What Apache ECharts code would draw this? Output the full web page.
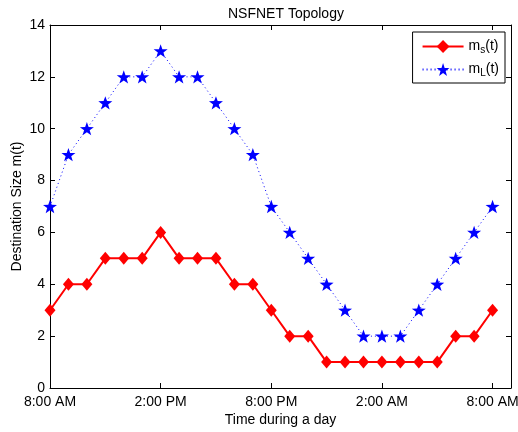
<!DOCTYPE html>
<html><head><meta charset="utf-8">
<script src="https://cdn.jsdelivr.net/npm/echarts@6/dist/echarts.min.js"></script>
<style>html,body{margin:0;padding:0;background:#fff}#c{width:518px;height:432px}</style>
</head><body><div id="c"></div>
<script>
// hours after 8:00 AM
const hours = [0,1,2,3,4,5,6,7,8,9,10,11,12,13,14,15,16,17,18,19,20,21,22,23,24];
const msValues = [3,4,4,5,5,5,6,5,5,5,4,4,3,2,2,1,1,1,1,1,1,1,2,2,3];
const mlValues = [7,9,10,11,12,12,13,12,12,11,10,9,7,6,5,4,3,2,2,2,3,4,5,6,7];
const tickLabels = {0:'8:00 AM',6:'2:00 PM',12:'8:00 PM',18:'2:00 AM',24:'8:00 AM'};
const yTicks = [0,2,4,6,8,10,12,14];

const FONT = 'Liberation Sans, Arial, sans-serif';
const star = 'path://M0,-10 L2.35,-3.24 L9.51,-3.09 L3.8,1.24 L5.88,8.09 L0,4 L-5.88,8.09 L-3.8,1.24 L-9.51,-3.09 L-2.35,-3.24 Z';
const chart = echarts.init(document.getElementById('c'), null, {renderer:'canvas'});
const axLine = {show:true, onZero:false, lineStyle:{color:'#000', width:1}};
const tick = {show:true, inside:true, length:5, lineStyle:{color:'#000', width:1}};
chart.setOption({
  animation:false,
  backgroundColor:'#fff',
  title:{text:'NSFNET Topology', left:223, top:2,
    textStyle:{fontFamily:FONT, fontSize:14, fontWeight:'normal', color:'#000'}},
  grid:{left:50, right:7, top:25, bottom:44, containLabel:false, outerBoundsMode:'none'},
  legend:{
    right:13, top:32, orient:'vertical', itemWidth:41, itemHeight:16, itemGap:6,
    padding:[6,6,5,9], borderColor:'#000', borderWidth:1, backgroundColor:'#fff',
    data:['ms','mL'],
    formatter:function(n){ return n==='ms' ? 'm{sub|s}(t)' : 'm{sub|L}(t)'; },
    textStyle:{fontFamily:FONT, fontSize:14, color:'#000',
      rich:{sub:{fontFamily:FONT, fontSize:10, lineHeight:10, color:'#000', padding:[7,0,0,0]}}}
  },
  xAxis:[{
    type:'value', min:0, max:25, interval:6,
    name:'Time during a day', nameLocation:'middle', nameGap:25, nameMoveOverlap:false,
    nameTextStyle:{fontFamily:FONT, fontSize:14, color:'#000'},
    axisLine:axLine, axisTick:tick,
    axisLabel:{fontFamily:FONT, fontSize:14, color:'#000', margin:7,
      showMaxLabel:false,
      formatter:function(v){ return tickLabels[v] || ''; }},
    splitLine:{show:false}
  },{
    type:'value', min:0, max:25, interval:6, position:'top',
    axisLine:axLine, axisTick:tick,
    axisLabel:{show:false}, splitLine:{show:false}
  }],
  yAxis:[{
    type:'value', min:yTicks[0], max:yTicks[yTicks.length-1], interval:2,
    name:'Destination Size m(t)', nameLocation:'middle', nameGap:26, nameMoveOverlap:false,
    nameTextStyle:{fontFamily:FONT, fontSize:14, color:'#000'},
    axisLine:axLine, axisTick:tick,
    axisLabel:{fontFamily:FONT, fontSize:14, color:'#000', margin:5},
    splitLine:{show:false}
  },{
    type:'value', min:yTicks[0], max:yTicks[yTicks.length-1], interval:2, position:'right',
    axisLine:axLine, axisTick:tick,
    axisLabel:{show:false}, splitLine:{show:false}
  }],
  series:[{
    name:'ms', type:'line',
    data:hours.map((h,i)=>[h,msValues[i]]),
    symbol:'diamond', symbolSize:[11,13],
    lineStyle:{color:'#ff0000', width:2},
    itemStyle:{color:'#ff0000'},
    z:3
  },{
    name:'mL', type:'line',
    data:hours.map((h,i)=>[h,mlValues[i]]),
    symbol:star, symbolSize:[14,14], symbolKeepAspect:true,
    lineStyle:{color:'#0000ff', width:1, type:[1,3]},
    itemStyle:{color:'#0000ff'},
    z:2
  }]
});
</script></body></html>
